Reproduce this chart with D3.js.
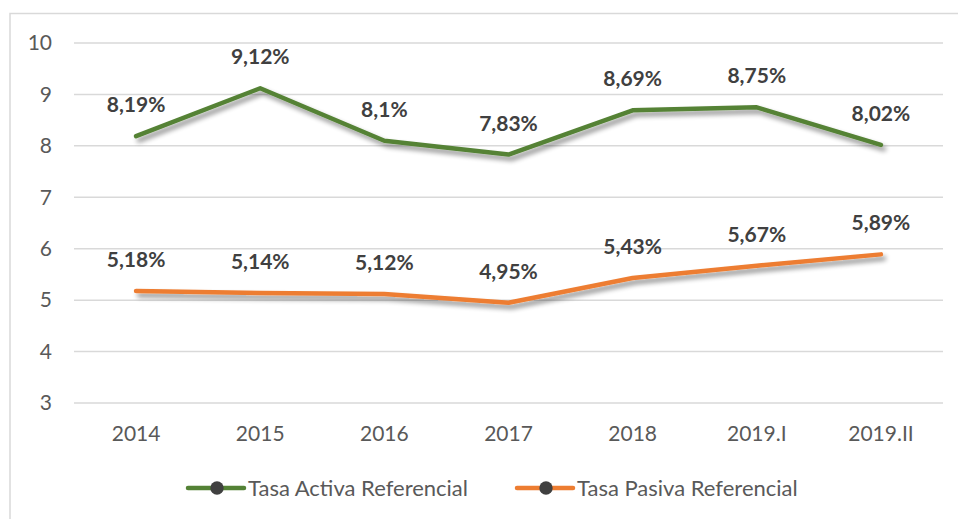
<!DOCTYPE html>
<html>
<head>
<meta charset="utf-8">
<script src="https://cdn.jsdelivr.net/npm/d3@7"></script>
<style>
  body { margin: 0; background: #fff; }
  svg text { font-family: Lato, "Open Sans", sans-serif; }
</style>
</head>
<body>
<div id="chart"></div>
<script>
// data
var years = ["2014", "2015", "2016", "2017", "2018", "2019.I", "2019.II"];
var activa = [8.19, 9.12, 8.1, 7.83, 8.69, 8.75, 8.02];
var pasiva = [5.18, 5.14, 5.12, 4.95, 5.43, 5.67, 5.89];
var yTicks = [3, 4, 5, 6, 7, 8, 9, 10];

var series = [
    {name: "Tasa Activa Referencial", values: activa, color: "#548235"},
    {name: "Tasa Pasiva Referencial", values: pasiva, color: "#ED7D31"}
];

var W = 958, H = 519;
var plot = {left: 74, right: 943, top: 43, bot: 403};

var svg = d3.select("#chart").append("svg")
    .attr("width", W)
    .attr("height", H);

// shadow under the lines
var defs = svg.append("defs");
var f = defs.append("filter").attr("id", "shadow")
    .attr("x", "-10%").attr("y", "-30%").attr("width", "120%").attr("height", "160%");
f.append("feGaussianBlur").attr("in", "SourceAlpha").attr("stdDeviation", 2.5).attr("result", "b");
f.append("feOffset").attr("in", "b").attr("dx", 3).attr("dy", 4).attr("result", "o");
f.append("feComponentTransfer").attr("in", "o").attr("result", "s")
    .append("feFuncA").attr("type", "linear").attr("slope", 0.45);
var fm = f.append("feMerge");
fm.append("feMergeNode").attr("in", "s");
fm.append("feMergeNode").attr("in", "SourceGraphic");

// chart frame
svg.append("rect")
    .attr("x", 10).attr("y", 13.5)
    .attr("width", 960).attr("height", 520)
    .attr("fill", "none")
    .attr("stroke", "#d9d9d9")
    .attr("stroke-width", 1.5);

var x = d3.scaleBand().domain(years).range([plot.left, plot.right]);
var y = d3.scaleLinear().domain([3, 10]).range([plot.bot, plot.top]);

// gridlines
svg.append("g")
    .selectAll("line")
    .data(yTicks)
    .enter().append("line")
    .attr("x1", plot.left).attr("x2", plot.right)
    .attr("y1", function(d) { return y(d); })
    .attr("y2", function(d) { return y(d); })
    .attr("stroke", "#d9d9d9")
    .attr("stroke-width", 1.5);

// y axis labels
var yAxis = svg.append("g")
    .attr("transform", "translate(" + (plot.left - 22) + ",0)")
    .call(d3.axisLeft(y).tickValues(yTicks).tickFormat(d3.format("d"))
          .tickSize(0).tickPadding(0));
yAxis.select(".domain").remove();
yAxis.selectAll("text")
    .attr("fill", "#595959")
    .attr("font-size", "21px")
    .attr("font-family", "Lato, 'Open Sans', sans-serif");

// x axis labels
var xAxis = svg.append("g")
    .attr("transform", "translate(0," + plot.bot + ")")
    .call(d3.axisBottom(x).tickSize(0).tickPadding(23));
xAxis.select(".domain").remove();
xAxis.selectAll("text")
    .attr("fill", "#595959")
    .attr("font-size", "21px")
    .attr("font-family", "Lato, 'Open Sans', sans-serif");

var line = d3.line()
    .x(function(d, i) { return x(years[i]) + x.bandwidth() / 2; })
    .y(function(d) { return y(d); });

series.forEach(function(s) {
    svg.append("path")
        .datum(s.values)
        .attr("d", line)
        .attr("fill", "none")
        .attr("stroke", s.color)
        .attr("stroke-width", 4.5)
        .attr("stroke-linejoin", "round")
        .attr("stroke-linecap", "round")
        .attr("filter", "url(#shadow)");

    svg.append("g")
        .selectAll("text")
        .data(s.values)
        .enter().append("text")
        .attr("x", function(d, i) { return x(years[i]) + x.bandwidth() / 2; })
        .attr("y", function(d) { return y(d) - 24; })
        .attr("text-anchor", "middle")
        .attr("font-size", "21px")
        .attr("font-weight", "bold")
        .attr("fill", "#404040")
        .text(function(d) { return String(d).replace(".", ",") + "%"; });
});

// legend
var legX = [188, 517];
var leg = svg.append("g")
    .selectAll("g")
    .data(series)
    .enter().append("g")
    .attr("transform", function(d, i) { return "translate(" + legX[i] + ",488)"; });
leg.append("line")
    .attr("x1", 0).attr("x2", 56)
    .attr("stroke", function(d) { return d.color; })
    .attr("stroke-width", 4.5)
    .attr("stroke-linecap", "round");
leg.append("circle")
    .attr("cx", 29).attr("r", 6.7)
    .attr("fill", "#404040");
leg.append("text")
    .attr("x", 60).attr("y", 8)
    .attr("font-size", "22px")
    .attr("fill", "#595959")
    .text(function(d) { return d.name; });
</script>
</body>
</html>
